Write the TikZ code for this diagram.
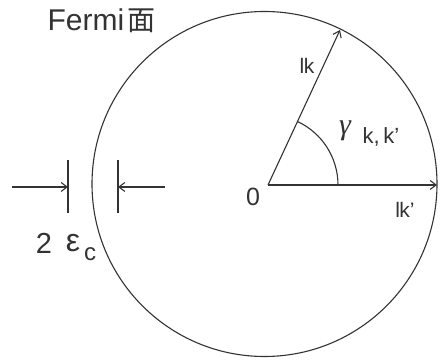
\documentclass[tikz,border=0pt]{standalone}
\usepackage{fontspec}
\setmainfont{Liberation Sans}
\newfontfamily\cjk{Noto Sans CJK JP}
\newfontfamily\grk{Liberation Serif}
\usetikzlibrary{arrows.meta}
\definecolor{ink}{HTML}{333333}
\tikzset{
  lbl/.style={text=ink, inner sep=0pt},
  arr/.style={-{Straight Barb[length=6pt,width=9pt]}},
}
\newcommand{\fs}[1]{\fontsize{#1}{#1}\selectfont}
\newcommand{\bbk}{l\kern-0.6pt k}
\begin{document}
\begin{tikzpicture}[x=1pt,y=-1pt, line width=1.1pt, draw=ink, color=ink]
\useasboundingbox (0,0) rectangle (440,363);
\coordinate (C) at (264.5,184);
\coordinate (O) at (268,185);
\coordinate (K) at (340,30);
\coordinate (Kp) at (437,185);
\coordinate (A0) at (338,185);
\draw (C) circle (172.5pt);
\draw[arr] (O) -- (K);
\draw[arr] (O) -- (Kp);
\draw (A0) arc[start angle=0, end angle=64.9, radius=70pt];
% width marks
\coordinate (L1) at (68,160);
\coordinate (L2) at (68,213);
\coordinate (R1) at (118,160);
\coordinate (R2) at (118,213);
\coordinate (LA) at (12,187);
\coordinate (LB) at (68,187);
\coordinate (RA) at (165,187);
\coordinate (RB) at (118,187);
\draw (L1) -- (L2);
\draw (R1) -- (R2);
\draw[arr] (LA) -- (LB);
\draw[arr] (RA) -- (RB);
% labels
\node[lbl, anchor=west, font=\fs{30}] (fermi) at (47,21) {Fermi\hspace{3pt}{\cjk\fs{28}面}};
\node[lbl, font=\fs{21}] (klab) at (307,66) {\bbk};
\node[lbl, font=\fs{30}] (gam) at (345,131) {\grk\itshape γ};
\node[lbl, font=\fs{22}] (sub) at (381,137) {k,\,k'};
\node[lbl, font=\fs{25}] (zero) at (253,197) {0};
\node[lbl, font=\fs{21}] (kplab) at (405,210) {\bbk'};
\node[lbl, font=\fs{29}] (two) at (44,243) {2};
\node[lbl, font=\fs{32}] (eps) at (73,243) {ε};
\node[lbl, font=\fs{24}] (c) at (90,254) {c};
\end{tikzpicture}
\end{document}
